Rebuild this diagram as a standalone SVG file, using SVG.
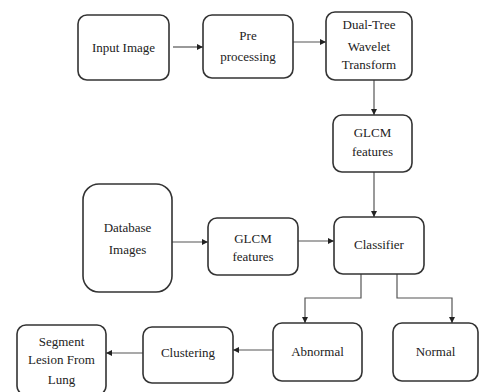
<svg xmlns="http://www.w3.org/2000/svg" width="480" height="392" viewBox="0 0 480 392">
<defs>
<marker id="ah" viewBox="0 0 10 10" refX="10" refY="5" markerWidth="5" markerHeight="5" orient="auto"><path d="M0,0 L10,5 L0,10 z" fill="#222"/></marker>
<style>
.box{fill:#fff;stroke:#333;stroke-width:1.6}
.c{fill:none;stroke:#555;stroke-width:1.2;marker-end:url(#ah)}
</style>
</defs>
<rect width="480" height="392" fill="#fff"/>
<g id="connectors">
<path class="c" d="M173,47 H203"/>
<path class="c" d="M293,42 H326"/>
<path class="c" d="M374,80 V115"/>
<path class="c" d="M374,172 V217"/>
<path class="c" d="M172,242 H208"/>
<path class="c" d="M298,241 H334"/>
<path class="c" d="M361,274 V298 H305 V323"/>
<path class="c" d="M397,274 V298 H452 V323"/>
<path class="c" d="M273,350 H233"/>
<path class="c" d="M143,353 H106"/>
</g>
<g font-family="Liberation Serif" font-size="13" fill="#222" text-anchor="middle">
<g id="input"><rect class="box" x="78" y="15" width="91" height="65" rx="9"/><text font-family="Liberation Serif" x="123.5" y="52">Input Image</text></g>
<g id="pre"><rect class="box" x="203" y="15" width="90" height="63" rx="9"/><text font-family="Liberation Serif" x="248" y="40">Pre</text><text font-family="Liberation Serif" x="248" y="61">processing</text></g>
<g id="dtwt"><rect class="box" x="326" y="12" width="86" height="68" rx="9"/><text font-family="Liberation Serif" x="369" y="29">Dual-Tree</text><text font-family="Liberation Serif" x="369" y="51">Wavelet</text><text font-family="Liberation Serif" x="369" y="69">Transform</text></g>
<g id="glcm1"><rect class="box" x="333" y="115" width="79" height="57" rx="9"/><text font-family="Liberation Serif" x="372.5" y="137">GLCM</text><text font-family="Liberation Serif" x="372.5" y="156">features</text></g>
<g id="database"><rect class="box" x="83" y="184" width="89" height="108" rx="16"/><text font-family="Liberation Serif" x="127.5" y="232">Database</text><text font-family="Liberation Serif" x="127.5" y="254">Images</text></g>
<g id="glcm2"><rect class="box" x="208" y="218" width="90" height="57" rx="9"/><text font-family="Liberation Serif" x="253" y="243">GLCM</text><text font-family="Liberation Serif" x="253" y="261">features</text></g>
<g id="classifier"><rect class="box" x="334" y="217" width="90" height="57" rx="9"/><text font-family="Liberation Serif" x="379" y="249">Classifier</text></g>
<g id="abnormal"><rect class="box" x="273" y="323" width="89" height="58" rx="9"/><text font-family="Liberation Serif" x="317.5" y="356">Abnormal</text></g>
<g id="normal"><rect class="box" x="393" y="323" width="85" height="58" rx="9"/><text font-family="Liberation Serif" x="435.5" y="356">Normal</text></g>
<g id="clustering"><rect class="box" x="143" y="327" width="90" height="56" rx="9"/><text font-family="Liberation Serif" x="188" y="357">Clustering</text></g>
<g id="segment"><rect class="box" x="17" y="325" width="89" height="70" rx="9"/><text font-family="Liberation Serif" x="61.5" y="346">Segment</text><text font-family="Liberation Serif" x="61.5" y="364">Lesion From</text><text font-family="Liberation Serif" x="61.5" y="384">Lung</text></g>
</g>
</svg>
